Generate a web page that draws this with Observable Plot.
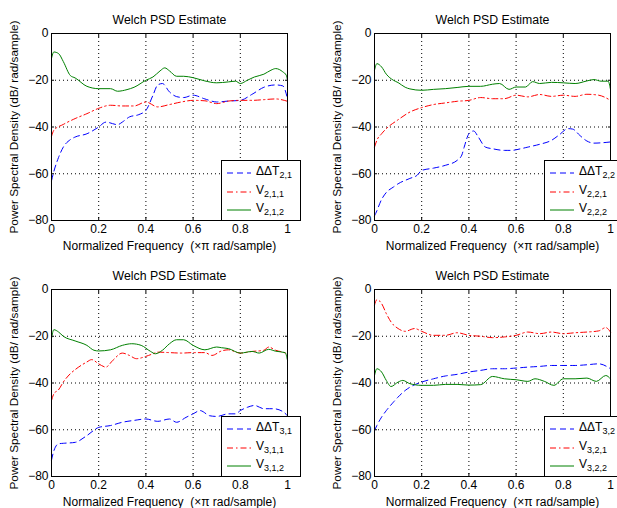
<!DOCTYPE html>
<html><head><meta charset="utf-8">
<script src="https://cdn.jsdelivr.net/npm/d3@7"></script>
<script src="https://cdn.jsdelivr.net/npm/@observablehq/plot@0.6"></script>
<style>
body{margin:0;background:#fff;}
#wrap{position:relative;width:617px;height:508px;overflow:hidden;font-family:"Liberation Sans",Arial,sans-serif;}
.panel{position:absolute;width:308px;height:254px;}
.panel svg{max-width:none !important;width:308px;height:254px;}
.legend{position:absolute;background:#fff;border:1px solid #000;box-sizing:border-box;width:80px;height:61px;font-size:12px;color:#000;}
.row{position:absolute;left:0;height:14px;line-height:14px;white-space:nowrap;}
.row svg{position:absolute;left:5px;top:0;}
.row span{position:absolute;left:34px;top:-2px;}
.row sub{font-size:9px;vertical-align:-3px;line-height:0;}
</style></head>
<body><div id="wrap"></div>
<script>
const xTicks = [0, 0.2, 0.4, 0.6, 0.8, 1];
const yTicks = [-80, -60, -40, -20, 0];
const title = "Welch PSD Estimate";
const xLabel = "Normalized Frequency \u00a0(×π rad/sample)";
const yLabel = "Power Spectral Density (dB/ rad/sample)";

// Panel 1
const dT21 = [[0,-63],[0.01,-59],[0.03,-53],[0.05,-48.6],[0.08,-45.4],[0.1,-44.3],[0.15,-42.9],[0.2,-40],[0.23,-37.9],[0.28,-39],[0.3,-37.9],[0.33,-35.7],[0.37,-34.7],[0.4,-32.9],[0.43,-26.4],[0.45,-22],[0.47,-21.4],[0.5,-25],[0.53,-27],[0.56,-27.4],[0.6,-26.4],[0.65,-28],[0.7,-29.3],[0.75,-28.9],[0.8,-28.6],[0.85,-26],[0.9,-23],[0.95,-22],[0.98,-22.4],[1,-27.9]];
const V211 = [[0,-44],[0.01,-41.4],[0.05,-38.9],[0.1,-36.4],[0.15,-34.3],[0.2,-32],[0.25,-30.7],[0.3,-31],[0.35,-31],[0.4,-29.3],[0.45,-31.4],[0.5,-30.4],[0.55,-29.3],[0.6,-28.6],[0.65,-28.8],[0.7,-30],[0.75,-28.9],[0.8,-28.6],[0.85,-28.6],[0.9,-28.3],[0.95,-28],[1,-29]];
const V212 = [[0,-10.7],[0.01,-7.9],[0.03,-8.6],[0.05,-12],[0.08,-18],[0.1,-19],[0.15,-22.6],[0.2,-23.6],[0.25,-23.6],[0.28,-24.7],[0.32,-24],[0.35,-23],[0.4,-20],[0.43,-18.6],[0.46,-16],[0.48,-14.7],[0.5,-16],[0.53,-18.3],[0.56,-18.3],[0.6,-18.9],[0.65,-20.3],[0.7,-21.1],[0.75,-20.7],[0.78,-20.4],[0.8,-21.4],[0.83,-20],[0.86,-18.6],[0.9,-17.4],[0.93,-15.7],[0.95,-15],[0.98,-16.4],[0.995,-17.9],[1,-20]];

// Panel 2
const dT22 = [[0,-78],[0.005,-77],[0.03,-71],[0.05,-68],[0.08,-65.7],[0.1,-64.3],[0.15,-62],[0.18,-60.7],[0.2,-58.6],[0.25,-57.6],[0.3,-56.4],[0.35,-54.3],[0.37,-52],[0.38,-48.6],[0.4,-42.9],[0.42,-41.7],[0.44,-44.3],[0.47,-48.6],[0.5,-49.3],[0.55,-50],[0.58,-50],[0.62,-49.3],[0.65,-48.6],[0.7,-47.4],[0.75,-45.7],[0.78,-43.6],[0.82,-40.7],[0.84,-40.9],[0.87,-43.6],[0.9,-46],[0.93,-46.9],[0.97,-46.7],[1,-46.4]];
const V221 = [[0,-48.6],[0.01,-45.7],[0.03,-42.9],[0.05,-40.7],[0.1,-36.9],[0.15,-33.6],[0.2,-31.7],[0.25,-30.4],[0.3,-29.7],[0.35,-29],[0.4,-28.6],[0.45,-27.4],[0.5,-27.9],[0.55,-27.9],[0.6,-26.4],[0.65,-27.1],[0.7,-26.1],[0.75,-26.9],[0.8,-26.4],[0.85,-26.9],[0.9,-26],[0.95,-26.4],[1,-28.6]];
const V222 = [[0,-15.7],[0.01,-12.9],[0.03,-14.3],[0.05,-17.4],[0.08,-20],[0.1,-21],[0.13,-23],[0.15,-23.7],[0.2,-24.3],[0.25,-23.9],[0.3,-23.6],[0.35,-23.1],[0.4,-22.6],[0.45,-22.6],[0.5,-21.7],[0.53,-21.4],[0.57,-23.9],[0.6,-22.9],[0.64,-22.9],[0.67,-20.6],[0.7,-21.4],[0.75,-20.9],[0.8,-21.1],[0.85,-21.4],[0.9,-20.3],[0.93,-19.7],[0.96,-20.4],[0.99,-20.4],[1,-24]];

// Panel 3
const dT31 = [[0,-73],[0.01,-69],[0.03,-66],[0.05,-65.8],[0.1,-65.4],[0.15,-62.5],[0.2,-59],[0.25,-58.2],[0.3,-56.8],[0.35,-56],[0.4,-55.4],[0.45,-56.4],[0.5,-55.4],[0.53,-56.8],[0.57,-54.7],[0.6,-53.2],[0.63,-51.8],[0.67,-54],[0.7,-54.3],[0.75,-53.2],[0.78,-53.2],[0.8,-51.8],[0.83,-50.4],[0.86,-49.6],[0.9,-51],[0.94,-51],[0.98,-52.2],[1,-54]];
const V311 = [[0,-47.5],[0.01,-44.6],[0.03,-42.9],[0.05,-39.6],[0.08,-36],[0.1,-34.3],[0.15,-31],[0.17,-30],[0.2,-31.8],[0.23,-33.2],[0.26,-30.3],[0.3,-27.2],[0.33,-28.2],[0.36,-29.6],[0.4,-28.6],[0.43,-27.5],[0.45,-26.8],[0.5,-27],[0.55,-27.2],[0.6,-27],[0.65,-27],[0.68,-28.2],[0.72,-26.3],[0.75,-25.8],[0.8,-27.2],[0.85,-26.5],[0.9,-26],[0.92,-24.6],[0.95,-26],[0.98,-26.8],[1,-27.5]];
const V312 = [[0,-21],[0.01,-17.2],[0.03,-18.2],[0.05,-20],[0.1,-22],[0.15,-23.9],[0.18,-26],[0.2,-26.3],[0.25,-25.8],[0.3,-23.9],[0.34,-23.2],[0.38,-23.9],[0.42,-26.5],[0.44,-27.5],[0.47,-26],[0.5,-23.2],[0.53,-21.5],[0.56,-21.5],[0.6,-23.9],[0.65,-25.8],[0.7,-24.6],[0.72,-24.9],[0.75,-25.3],[0.8,-27.2],[0.85,-26.5],[0.88,-27.2],[0.92,-25.6],[0.95,-26.4],[0.99,-27],[1,-30.3]];

// Panel 4
const dT32 = [[0,-60.4],[0.01,-58.2],[0.03,-54.6],[0.05,-51.8],[0.08,-48.2],[0.1,-46],[0.13,-43.2],[0.15,-41.8],[0.2,-39.6],[0.25,-38.2],[0.3,-37],[0.35,-36.3],[0.4,-35.3],[0.45,-34.6],[0.5,-33.9],[0.55,-33.9],[0.6,-33.6],[0.65,-33.2],[0.7,-32.9],[0.75,-32.5],[0.8,-32.5],[0.85,-32.5],[0.9,-32.2],[0.95,-31.8],[1,-33.9]];
const V321 = [[0,-6.7],[0.01,-4.3],[0.03,-6],[0.05,-10.3],[0.07,-13.9],[0.1,-16.7],[0.13,-17.9],[0.17,-16.7],[0.2,-17.9],[0.25,-19.6],[0.3,-19.6],[0.35,-18.5],[0.4,-19.6],[0.45,-20],[0.5,-20.6],[0.55,-20.3],[0.6,-19.6],[0.65,-18.2],[0.7,-18.9],[0.75,-18.2],[0.8,-18.9],[0.85,-18.5],[0.9,-18.2],[0.95,-17.7],[0.98,-16.3],[1,-18.2]];
const V322 = [[0,-36.8],[0.01,-33.9],[0.03,-35.3],[0.05,-38.9],[0.07,-41.5],[0.1,-39.6],[0.12,-38.9],[0.15,-40.3],[0.2,-41],[0.25,-41],[0.3,-40.6],[0.35,-40.6],[0.4,-40.9],[0.45,-40.7],[0.5,-37.2],[0.55,-38.2],[0.6,-38.6],[0.65,-39.3],[0.68,-38.2],[0.72,-39.3],[0.76,-41],[0.8,-38.2],[0.85,-38.2],[0.9,-37.9],[0.94,-39.3],[0.98,-36.8],[1,-38.2]];

const legend1 = [["ΔΔT","2,1"],["V","2,1,1"],["V","2,1,2"]];
const legend2 = [["ΔΔT","2,2"],["V","2,2,1"],["V","2,2,2"]];
const legend3 = [["ΔΔT","3,1"],["V","3,1,1"],["V","3,1,2"]];
const legend4 = [["ΔΔT","3,2"],["V","3,2,1"],["V","3,2,2"]];

const styles = [
  {stroke:"#0000ff", dash:"6,4"},
  {stroke:"#ff0000", dash:"6,3,1.5,3"},
  {stroke:"#008000", dash:null}
];

const panels = [
  {left:0, top:0, series:[dT21,V211,V212], legend:legend1},
  {left:323, top:0, series:[dT22,V221,V222], legend:legend2},
  {left:0, top:256, series:[dT31,V311,V312], legend:legend3},
  {left:323, top:256, series:[dT32,V321,V322], legend:legend4}
];

const fmtX = d => String(d);
const fmtY = d => d < 0 ? "\u2212" + Math.abs(d) : String(d);
const wrap = document.getElementById("wrap");

for (const p of panels) {
  const marks = [
    Plot.gridX(xTicks, {stroke:"black", strokeOpacity:1, strokeDasharray:"1,3"}),
    Plot.gridY(yTicks, {stroke:"black", strokeOpacity:1, strokeDasharray:"1,3"}),
    ...p.series.map((s, i) => Plot.line(s, {x: d => d[0], y: d => d[1], stroke: styles[i].stroke, strokeWidth: 1, strokeDasharray: styles[i].dash, curve: "monotone-x"})),
    Plot.frame({stroke:"black"}),
    Plot.axisX({anchor:"bottom", ticks:xTicks, tickSize:-3, tickPadding:7, tickFormat:fmtX, fontSize:12, label:null}),
    Plot.axisX({anchor:"bottom", ticks:[], label:xLabel, labelAnchor:"center", labelOffset:29, labelArrow:"none", fontSize:12}),
    Plot.axisX({anchor:"top", ticks:xTicks, tickSize:-3, tickFormat:() => "", label:null}),
    Plot.axisY({anchor:"left", ticks:yTicks, tickSize:-3, tickPadding:6, tickFormat:fmtY, fontSize:12, label:null}),
    Plot.axisY({anchor:"left", ticks:[], label:yLabel, labelAnchor:"center", labelOffset:42, labelArrow:"none", fontSize:11.8}),
    Plot.axisY({anchor:"right", ticks:yTicks, tickSize:-3, tickFormat:() => "", label:null}),
    Plot.text([title], {frameAnchor:"top", dy:-13, lineAnchor:"middle", fontSize:12.3})
  ];
  const svg = Plot.plot({
    width: 308, height: 254,
    marginLeft: 51, marginRight: 21, marginTop: 33, marginBottom: 34,
    style: {fontFamily: "'Liberation Sans', Arial, sans-serif", fontSize: "12px", color: "black", background: "transparent", overflow: "visible"},
    x: {domain: [0, 1]},
    y: {domain: [-80, 0]},
    marks
  });
  const div = document.createElement("div");
  div.className = "panel";
  div.style.left = p.left + "px";
  div.style.top = p.top + "px";
  div.appendChild(svg);
  wrap.appendChild(div);

  const lg = document.createElement("div");
  lg.className = "legend";
  lg.style.left = (p.left + 221) + "px";
  lg.style.top = (p.top + 160) + "px";
  p.legend.forEach((l, i) => {
    const row = document.createElement("div");
    row.className = "row";
    row.style.top = (5 + i * 18.5) + "px";
    row.innerHTML = `<svg width="26" height="14"><line x1="0" x2="24" y1="7" y2="7" stroke="${styles[i].stroke}" stroke-width="1" ${styles[i].dash ? `stroke-dasharray="${styles[i].dash}"` : ""}/></svg><span>${l[0]}<sub>${l[1]}</sub></span>`;
    lg.appendChild(row);
  });
  wrap.appendChild(lg);
}
</script>
</body></html>
